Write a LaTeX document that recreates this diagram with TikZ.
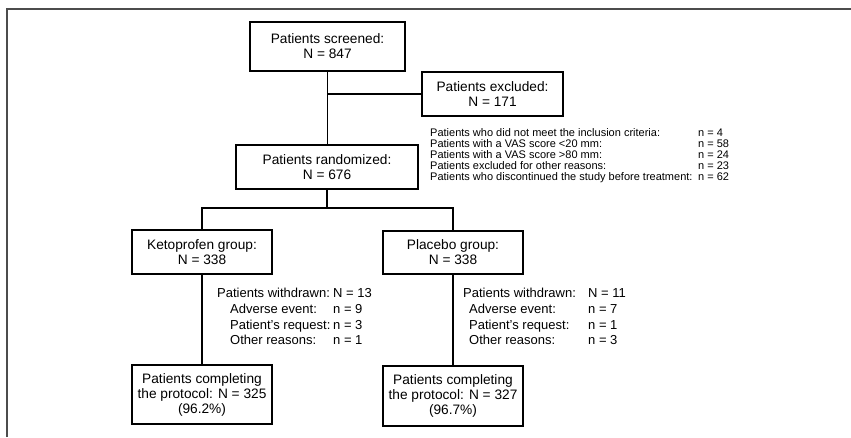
\documentclass[tikz,border=0pt]{standalone}
\usepackage{fontspec}
\setmainfont{Liberation Sans}
\usepackage{tikz}
\usetikzlibrary{positioning,calc}

\begin{document}
\begin{tikzpicture}[x=1pt,y=-1pt,
  box/.style={draw, line width=1.5pt, inner sep=0pt, align=center, font=\fontsize{13.7}{15}\selectfont},
  link/.style={line width=1.5pt},
  note/.style={inner sep=0pt, anchor=north west, font=\fontsize{13}{15.7}\selectfont},
  frame/.style={draw=black!70, line width=1.3pt}]
\useasboundingbox (0,0) rectangle (851,437);
\draw [frame] (7,437) -- (7,9) -- (851,9);

\node [box, minimum width=155pt, minimum height=49pt] (scr) at (327.5,46.5) {Patients screened:\\N = 847};
\node [box, minimum width=141pt, minimum height=44pt] (exc) at (492.5,94) {Patients excluded:\\N = 171};
\node [box, minimum width=182pt, minimum height=44pt] (rand) at (327,167) {Patients randomized:\\N = 676};
\node [box, minimum width=140pt, minimum height=44pt] (keto) at (202,252) {Ketoprofen group:\\N = 338};
\node [box, minimum width=140pt, minimum height=43pt] (plac) at (453,252.5) {Placebo group:\\N = 338};
\node [box, minimum width=140pt, minimum height=59pt] (kdone) at (202,394.5) {Patients completing\\the protocol: N = 325\\(96.2\%)};
\node [box, minimum width=140pt, minimum height=60pt] (pdone) at (453,396) {Patients completing\\the protocol: N = 327\\(96.7\%)};

% excluded patients
\node [note, font=\fontsize{11}{9.75}\selectfont] (exlist) at (430,128.4) {%
\begin{tabular}{@{}p{268pt}@{}l@{}}
Patients who did not meet the inclusion criteria: & n = 4\\
Patients with a VAS score <20 mm: & n = 58\\
Patients with a VAS score >80 mm: & n = 24\\
Patients excluded for other reasons: & n = 23\\
Patients who discontinued the study before treatment: & n = 62
\end{tabular}};

% withdrawn patients
\node [note] (kout) at (217,286.5) {%
\begin{tabular}{@{}p{116pt}@{}l@{}}
Patients withdrawn: & N = 13\\
\hspace*{13pt}Adverse event: & n = 9\\
\hspace*{13pt}Patient's request: & n = 3\\
\hspace*{13pt}Other reasons: & n = 1
\end{tabular}};
\node [note] (pout) at (463,286.5) {%
\begin{tabular}{@{}p{125pt}@{}l@{}}
Patients withdrawn: & N = 11\\
\hspace*{6pt}Adverse event: & n = 7\\
\hspace*{6pt}Patient's request: & n = 1\\
\hspace*{6pt}Other reasons: & n = 3
\end{tabular}};

\coordinate (tee) at (scr.south |- exc.west);
\coordinate (split) at (327,208);
\draw [link] (scr.south) -- (scr.south |- rand.north);
\draw [link] (tee) -- (exc.west);
\draw [link] (rand.south) -- (split);
\draw [link] (keto.north) |- (split) -| (plac.north);
\draw [link] (keto.south) -- (kdone.north);
\draw [link] (plac.south) -- (pdone.north);
\end{tikzpicture}
\end{document}
